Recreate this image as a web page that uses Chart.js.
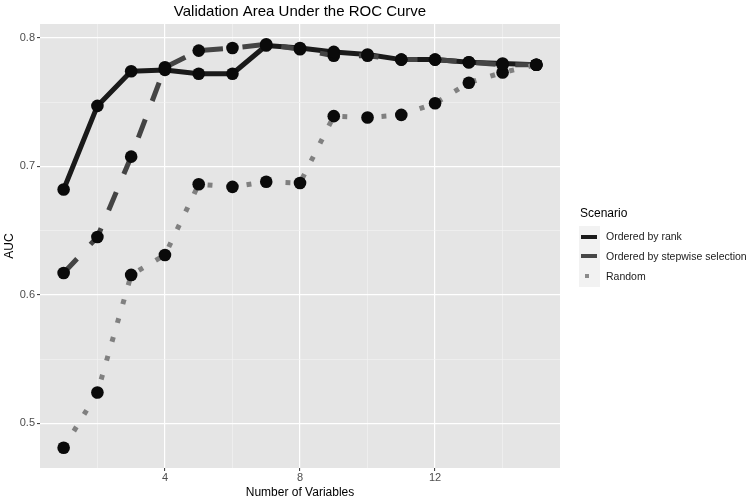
<!DOCTYPE html>
<html><head><meta charset="utf-8">
<script src="https://cdn.jsdelivr.net/npm/chart.js@4.4.1/dist/chart.umd.min.js"></script>
<style>
html,body{margin:0;padding:0;background:#fff;}
#wrap{position:relative;width:750px;height:501px;overflow:hidden;}
#c{position:absolute;left:0;top:0;}
.lg{position:absolute;font-family:"Liberation Sans",Arial,sans-serif;white-space:nowrap;line-height:1;}
</style></head><body>
<div id="wrap"><canvas id="c" width="750" height="501"></canvas></div>
<script>
// ---- data ----
const numVariables = [1,2,3,4,5,6,7,8,9,10,11,12,13,14,15];
const rankAUC     = [0.682,0.747,0.774,0.775,0.772,0.772,0.794,0.792,0.789,0.787,0.783,0.783,0.781,0.780,0.779];
const stepwiseAUC = [0.617,0.645,0.7075,0.777,0.790,0.792,0.795,0.791,0.786,0.786,0.783,0.783,0.781,0.779,0.779];
const randomAUC   = [0.481,0.524,0.6155,0.631,0.686,0.684,0.688,0.687,0.739,0.738,0.740,0.749,0.765,0.773,0.779];
const seriesNames = ['Ordered by rank','Ordered by stepwise selection','Random'];
const xMajorTicks = [4,8,12];
const xMinorTicks = [2,6,10,14];
const yMajorTicks = [0.5,0.6,0.7,0.8];
const yMinorTicks = [0.55,0.65,0.75];

// ---- styles ----
const lineColors = ['#1a1a1a','#444444','#808080'];
const legendColors = ['#1a1a1a','#474747','#8a8a8a'];
const dashes = [[], [19.6,19.6], [4.9,14.7]];
const FONT = '"Liberation Sans", Arial, Helvetica, sans-serif';

function expand(arrs){
  const all = [].concat(...arrs);
  const mn = Math.min(...all), mx = Math.max(...all), r = mx-mn;
  return [mn-0.05*r, mx+0.05*r];
}
const xr = expand([numVariables]);
const yr = expand([rankAUC,stepwiseAUC,randomAUC]);

const seriesData = [rankAUC,stepwiseAUC,randomAUC];
const datasets = [];
seriesData.forEach((vals,i)=>{
  datasets.push({
    label: seriesNames[i],
    data: numVariables.map((x,j)=>({x:x,y:vals[j]})),
    borderColor: lineColors[i],
    borderWidth: 5,
    borderDash: dashes[i],
    borderCapStyle: 'butt',
    borderJoinStyle: 'round',
    pointRadius: 0,
    fill: false,
    tension: 0,
    order: 3-i+1
  });
});
seriesData.forEach((vals,i)=>{
  datasets.push({
    label: seriesNames[i]+' pts',
    data: numVariables.map((x,j)=>({x:x,y:vals[j]})),
    showLine: false,
    pointRadius: 6.3,
    pointBorderWidth: 0,
    pointBackgroundColor: '#0a0a0a',
    pointBorderColor: '#0a0a0a',
    order: 0
  });
});

const panelBg = {
  id:'panelBg',
  beforeDraw(chart){
    const {ctx, chartArea:a} = chart;
    ctx.save(); ctx.fillStyle = '#e5e5e5';
    ctx.fillRect(a.left, a.top, a.right-a.left, a.bottom-a.top);
    ctx.restore();
  }
};

function isMajor(list, v){ return list.some(m=>Math.abs(m-v)<1e-9); }

new Chart(document.getElementById('c'), {
  type: 'line',
  data: { datasets },
  options: {
    responsive: false,
    animation: false,
    devicePixelRatio: 1,
    layout: { padding: { top: 0, right: 190, bottom: 0, left: 0 } },
    plugins: {
      legend: { display: false },
      tooltip: { enabled: false },
      title: {
        display: true,
        text: 'Validation Area Under the ROC Curve',
        fullSize: false,
        color: '#000',
        font: { family: FONT, size: 15, weight: 'normal', lineHeight: 1.2 },
        padding: { top: 3, bottom: 3 }
      }
    },
    scales: {
      x: {
        type: 'linear',
        min: xr[0], max: xr[1],
        afterBuildTicks(s){ s.ticks = xMinorTicks.concat(xMajorTicks).sort((a,b)=>a-b).map(v=>({value:v})); },
        afterFit(s){ s.height = 33; },
        border: { display: false },
        grid: {
          color: (c)=> isMajor(xMajorTicks, c.tick && c.tick.value) ? '#ffffff' : '#f4f4f4',
          lineWidth: (c)=> isMajor(xMajorTicks, c.tick && c.tick.value) ? 1.2 : 0.6,
          tickColor: (c)=> isMajor(xMajorTicks, c.tick && c.tick.value) ? '#333333' : 'rgba(0,0,0,0)',
          tickLength: 3,
          tickWidth: 1
        },
        ticks: {
          padding: 0,
          color: '#4d4d4d',
          font: { family: FONT, size: 11 },
          maxRotation: 0,
          autoSkip: false,
          callback: (v)=> isMajor(xMajorTicks, v) ? String(v) : ''
        },
        title: {
          display: true, text: 'Number of Variables', color: '#000',
          font: { family: FONT, size: 12, lineHeight: 1.2 },
          padding: { top: 0, bottom: 1 }
        }
      },
      y: {
        type: 'linear',
        min: yr[0], max: yr[1],
        afterBuildTicks(s){ s.ticks = yMinorTicks.concat(yMajorTicks).sort((a,b)=>a-b).map(v=>({value:v})); },
        afterFit(s){ s.width = 40; },
        border: { display: false },
        grid: {
          color: (c)=> isMajor(yMajorTicks, c.tick && c.tick.value) ? '#ffffff' : '#f4f4f4',
          lineWidth: (c)=> isMajor(yMajorTicks, c.tick && c.tick.value) ? 1.2 : 0.6,
          tickColor: (c)=> isMajor(yMajorTicks, c.tick && c.tick.value) ? '#333333' : 'rgba(0,0,0,0)',
          tickLength: 3,
          tickWidth: 1
        },
        ticks: {
          padding: 2,
          color: '#4d4d4d',
          font: { family: FONT, size: 11 },
          autoSkip: false,
          callback: (v)=> isMajor(yMajorTicks, v) ? v.toFixed(1) : ''
        },
        title: {
          display: true, text: 'AUC', color: '#000',
          font: { family: FONT, size: 12, lineHeight: 1.2 },
          padding: { top: 2, bottom: 0 }
        }
      }
    }
  },
  plugins: [panelBg]
});

// ---- legend (HTML) ----
const wrap = document.getElementById('wrap');
const t = document.createElement('div');
t.className = 'lg'; t.textContent = 'Scenario';
t.style.cssText = 'left:580px;top:207px;font-size:12px;color:#000;';
wrap.appendChild(t);
const bg = document.createElement('div');
bg.style.cssText = 'position:absolute;left:579px;top:226px;width:21px;height:61px;background:#f2f2f2;';
wrap.appendChild(bg);
seriesNames.forEach((name,i)=>{
  const cy = 236.5 + i*19.8;
  const k = document.createElement('div');
  if (i < 2) {
    k.style.cssText = `position:absolute;left:581px;top:${cy-2}px;width:16px;height:4px;background:${legendColors[i]};`;
  } else {
    k.style.cssText = `position:absolute;left:585px;top:${cy-2}px;width:4px;height:4px;background:${legendColors[i]};`;
  }
  wrap.appendChild(k);
  const l = document.createElement('div');
  l.className = 'lg'; l.textContent = name;
  l.style.cssText = `left:606px;top:${cy-5.5}px;font-size:10.5px;color:#1a1a1a;`;
  wrap.appendChild(l);
});
</script>
</body></html>
